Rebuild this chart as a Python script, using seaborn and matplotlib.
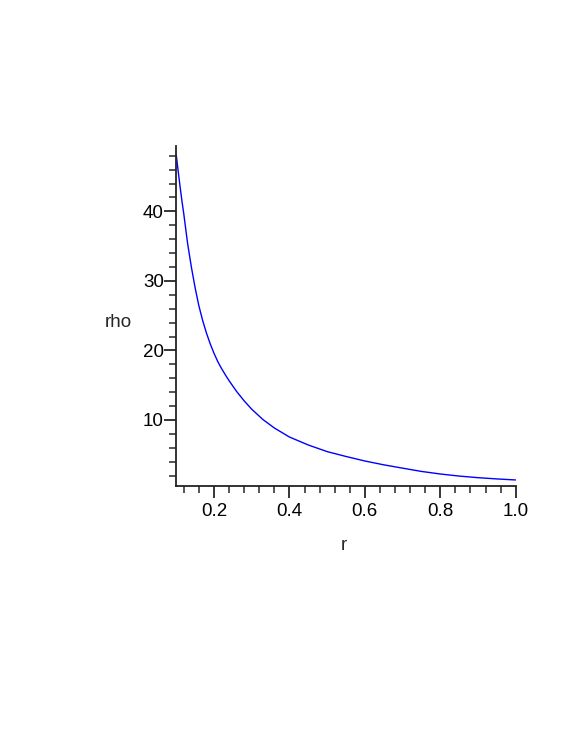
import numpy as np
import pandas as pd
import matplotlib
matplotlib.use("Agg")
import matplotlib.pyplot as plt
import seaborn as sns
from matplotlib.ticker import MultipleLocator

# valores
r = [0.10, 0.105, 0.11, 0.115, 0.12, 0.13, 0.14, 0.15, 0.16, 0.17, 0.18,
     0.19, 0.20, 0.21, 0.22, 0.23, 0.24, 0.26, 0.28, 0.30, 0.33, 0.36,
     0.40, 0.45, 0.50, 0.55, 0.60, 0.65, 0.70, 0.75, 0.80, 0.85, 0.90,
     0.95, 1.00]
rho = [48.1, 45.8, 43.6, 41.5, 39.6, 35.4, 32.0, 29.0, 26.4, 24.3, 22.5,
       20.95, 19.6, 18.4, 17.4, 16.5, 15.65, 14.1, 12.75, 11.55, 10.05, 8.85,
       7.55, 6.4, 5.45, 4.75, 4.1, 3.55, 3.07, 2.6, 2.23, 1.93, 1.70,
       1.52, 1.37]

x_major = [0.2, 0.4, 0.6, 0.8, 1.0]
x_labels = ["0.2", "0.4", "0.6", "0.8", "1.0"]
y_major = [10, 20, 30, 40]

df = pd.DataFrame({"r": r, "rho": rho})

sns.set_style("ticks")
plt.rcParams["font.family"] = ["Liberation Sans", "DejaVu Sans"]

fig = plt.figure(figsize=(5.81, 7.52), dpi=100)
ax = fig.add_axes([0.3034, 0.3537, 0.5842, 0.4521])

sns.lineplot(data=df, x="r", y="rho", color="blue", linewidth=1.0, ax=ax)

ax.set_xlim(0.1, 1.0)
ax.set_ylim(0.5, 49.4)

ax.set_xticks(x_major)
ax.set_xticklabels(x_labels)
ax.xaxis.set_minor_locator(MultipleLocator(0.04))
ax.set_yticks(y_major)
ax.yaxis.set_minor_locator(MultipleLocator(2))

ax.tick_params(which="major", length=8.5, width=1.1, labelsize=13.5, colors="black")
ax.tick_params(which="minor", length=5, width=1.1)
ax.tick_params(axis="x", pad=4)
ax.tick_params(axis="y", pad=0.5)

sns.despine(ax=ax)
for s in ["left", "bottom"]:
    ax.spines[s].set_linewidth(1.3)
    ax.spines[s].set_color("#222222")

ax.set_xlabel("")
ax.set_ylabel("")
ax.text(-0.172, 0.48, "rho", transform=ax.transAxes, ha="center", va="center", fontsize=13.5)
ax.text(0.493, -0.174, "r", transform=ax.transAxes, ha="center", va="center", fontsize=13.5)

fig.savefig("out.png", dpi=100)
